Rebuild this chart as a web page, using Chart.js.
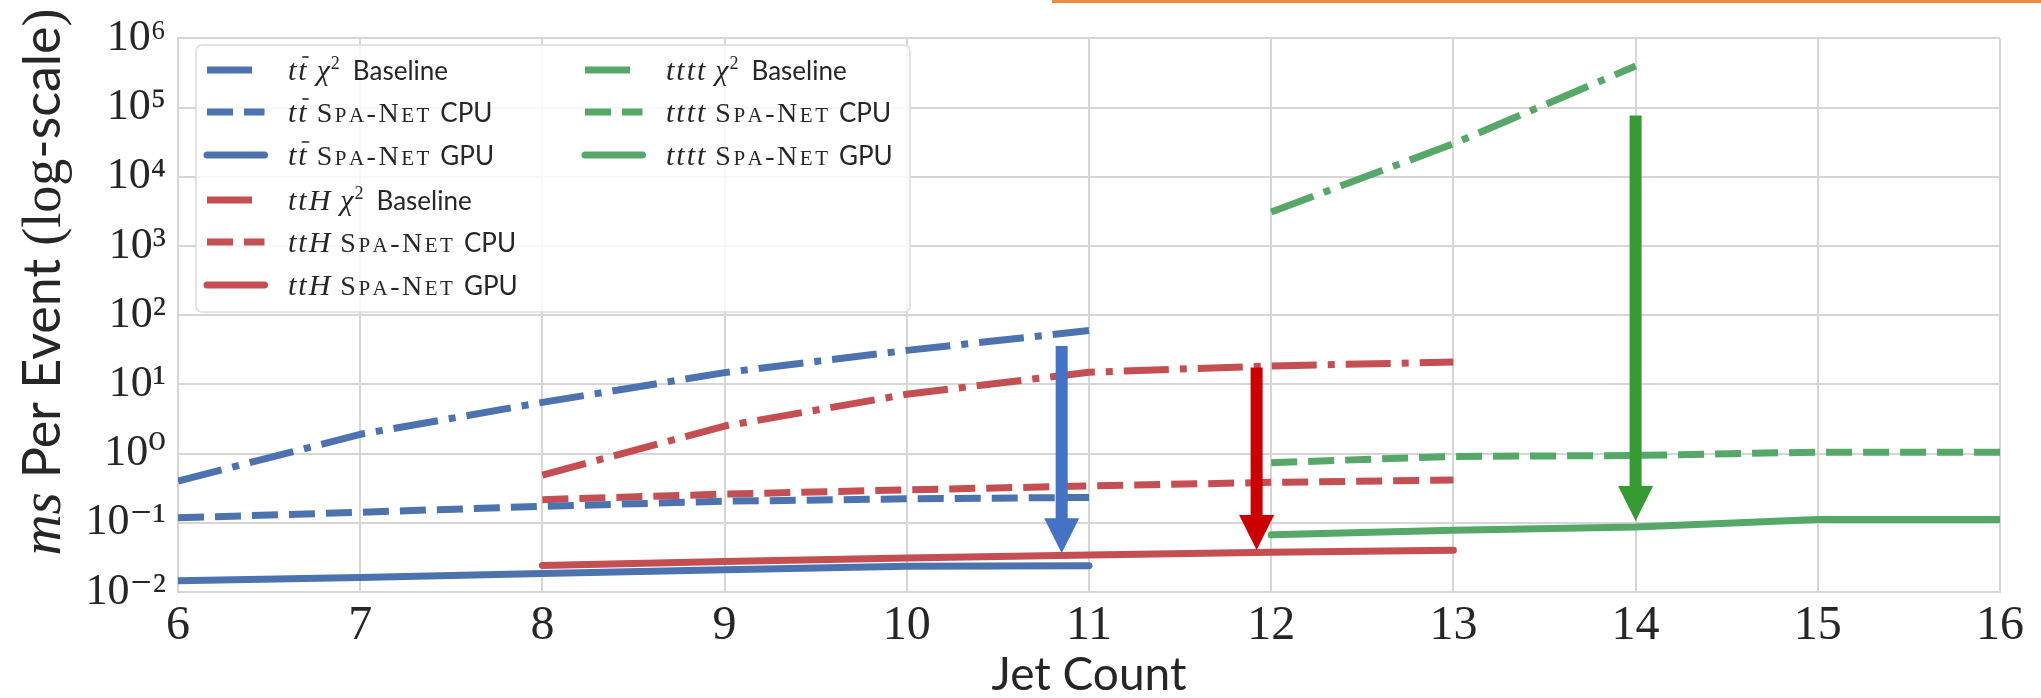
<!DOCTYPE html>
<html><head><meta charset="utf-8">
<script src="https://cdn.jsdelivr.net/npm/chart.js@4/dist/chart.umd.min.js"></script>
<style>
html,body{margin:0;padding:0;background:#fff;}
#wrap{position:relative;width:2041px;height:698px;overflow:hidden;}
#orange{position:absolute;left:1052px;top:0;width:989px;height:3px;background:#F0883E;}
canvas{position:absolute;left:0;top:0;}
</style></head><body>
<div id="wrap"><canvas id="c" width="2041" height="698"></canvas><div id="orange"></div></div>
<script>
// ---------- data ----------
const jetTT   = [6, 7, 8, 9, 10, 11];
const ttBaseline = [0.40, 1.9, 5.5, 14.8, 31, 60];
const ttCPU      = [0.118, 0.142, 0.173, 0.205, 0.222, 0.233];
const ttGPU      = [0.0145, 0.0162, 0.0185, 0.021, 0.0235, 0.024];

const jetTTH  = [8, 9, 10, 11, 12, 13];
const tthBaseline = [0.49, 2.5, 7.2, 15, 18.5, 21];
const tthCPU      = [0.216, 0.26, 0.30, 0.34, 0.384, 0.416];
const tthGPU      = [0.0242, 0.0275, 0.031, 0.0342, 0.0375, 0.040];

const jetTTTTBase = [12, 13, 14];
const ttttBaseline = [3100, 30000, 400000];
const jetTTTT = [12, 13, 14, 15, 16];
const ttttCPU = [0.74, 0.91, 0.94, 1.05, 1.05];
const ttttGPU = [0.067, 0.078, 0.087, 0.112, 0.112];

const xTicks = [6, 7, 8, 9, 10, 11, 12, 13, 14, 15, 16];
const yExponents = [-2, -1, 0, 1, 2, 3, 4, 5, 6];

// speed-up arrows (jet count, from value, to value)
const arrowJet  = [10.85, 11.92, 14.0];
const arrowFrom = [36, 17.6, 77000];
const arrowTo   = [0.0363, 0.0405, 0.106];
const arrowColor = ['#4472C4', '#CC0000', '#379B33'];

// ---------- style ----------
const SERIF = '"Liberation Serif", "DejaVu Serif", serif';
const SANS  = 'Lato, "Open Sans", sans-serif';
const BLUE = '#4C72B0', RED = '#C44E52', GREEN = '#55A868';
const TXT = '#262626';
const GRID = '#d6d6d6';
const DASHDOT = [45, 11, 7, 11], DASH = [26, 11];

const pts = (xs, ys) => ys.map((y, i) => ({x: xs[i], y}));
function ds(label, xs, ys, color, kind) {
  return {
    label, data: pts(xs, ys), borderColor: color, backgroundColor: color,
    borderWidth: 7, pointRadius: 0, pointHoverRadius: 0, tension: 0, fill: false,
    borderDash: kind === 'base' ? DASHDOT : kind === 'cpu' ? DASH : [],
    borderCapStyle: kind === 'gpu' ? 'round' : 'butt', borderJoinStyle: 'round',
    _kind: kind
  };
}
const datasets = [
  ds('tt̄ χ² Baseline', jetTT, ttBaseline, BLUE, 'base'),
  ds('tt̄ Spa-Net CPU', jetTT, ttCPU, BLUE, 'cpu'),
  ds('tt̄ Spa-Net GPU', jetTT, ttGPU, BLUE, 'gpu'),
  ds('ttH χ² Baseline', jetTTH, tthBaseline, RED, 'base'),
  ds('ttH Spa-Net CPU', jetTTH, tthCPU, RED, 'cpu'),
  ds('ttH Spa-Net GPU', jetTTH, tthGPU, RED, 'gpu'),
  ds('tttt χ² Baseline', jetTTTTBase, ttttBaseline, GREEN, 'base'),
  ds('tttt Spa-Net CPU', jetTTTT, ttttCPU, GREEN, 'cpu'),
  ds('tttt Spa-Net GPU', jetTTTT, ttttGPU, GREEN, 'gpu'),
];

const SUP = {'-': '⁻', '0': '⁰', '1': '¹', '2': '²', '3': '³', '4': '⁴', '5': '⁵', '6': '⁶', '7': '⁷', '8': '⁸', '9': '⁹'};

// ---------- rich text helper ----------
function drawSegs(ctx, x, y, segs) {
  for (const s of segs) {
    ctx.font = s.font;
    const chars = s.ls ? s.t.split('') : [s.t];
    chars.forEach((c, k) => {
      const w = ctx.measureText(c).width;
      if (c.trim().length) ctx.fillText(c, x, y + (s.dy || 0));
      x += w + (s.ls && k < chars.length - 1 ? s.ls : 0);
    });
    if (s.bar) { // macron over the last glyph
      const cw = ctx.measureText(s.t.slice(-1)).width;
      ctx.save(); ctx.lineWidth = 1.6; ctx.strokeStyle = ctx.fillStyle;
      ctx.beginPath(); ctx.moveTo(x - cw + 4, y - s.barY); ctx.lineTo(x + 2, y - s.barY); ctx.stroke(); ctx.restore();
    }
    x += (s.gap || 0);
  }
  return x;
}
function procSegs(p) {
  const f = `italic 30px ${SERIF}`;
  if (p === 0) return [{t: 'tt', font: f, ls: 2, bar: true, barY: 23, gap: 10}];
  if (p === 1) return [{t: 'ttH', font: f, ls: 2, gap: 10}];
  return [{t: 'tttt', font: f, ls: 2, gap: 10}];
}
function suffixSegs(kind) {
  if (kind === 'base') return [
    {t: 'χ', font: `italic 30px ${SERIF}`, gap: 1},
    {t: '2', font: `18px ${SERIF}`, dy: -11, gap: 13},
    {t: 'Baseline', font: `26px ${SANS}`}];
  const sc = `21px ${SERIF}`, big = `28px ${SERIF}`;
  return [
    {t: 'S', font: big, gap: 2.5}, {t: 'PA', font: sc, ls: 2.5, gap: 2.5}, {t: '-', font: big, gap: 2.5},
    {t: 'N', font: big, gap: 2.5}, {t: 'ET', font: sc, ls: 2.5, gap: 11},
    {t: kind === 'cpu' ? 'CPU' : 'GPU', font: `26px ${SANS}`}];
}

const legendPlugin = {
  id: 'richLegend',
  afterDraw(chart) {
    const ctx = chart.ctx;
    ctx.save();
    // box
    const bx = 196, by = 45, bw = 714, bh = 267, r = 6;
    ctx.beginPath();
    ctx.moveTo(bx + r, by); ctx.arcTo(bx + bw, by, bx + bw, by + bh, r); ctx.arcTo(bx + bw, by + bh, bx, by + bh, r);
    ctx.arcTo(bx, by + bh, bx, by, r); ctx.arcTo(bx, by, bx + bw, by, r); ctx.closePath();
    ctx.fillStyle = 'rgba(255,255,255,0.8)'; ctx.fill();
    ctx.strokeStyle = '#dcdcdc'; ctx.lineWidth = 1.5; ctx.stroke();
    const rows = [70, 112, 155, 200, 242, 285, 70, 112, 155];
    chart.data.datasets.forEach((d, i) => {
      const col = i >= 6 ? 1 : 0;
      const lx = col ? 585 : 207, tx = col ? 666 : 288;
      const y = rows[i];
      ctx.strokeStyle = d.borderColor; ctx.lineWidth = 7;
      ctx.setLineDash(d.borderDash); ctx.lineCap = d.borderCapStyle;
      ctx.beginPath(); ctx.moveTo(lx, y); ctx.lineTo(lx + (d._kind === 'base' ? 46 : 57.5), y); ctx.stroke();
      ctx.setLineDash([]);
      ctx.fillStyle = TXT; ctx.textBaseline = 'alphabetic'; ctx.textAlign = 'left';
      const segs = procSegs(Math.floor(i / 3)).concat(suffixSegs(d._kind));
      drawSegs(ctx, tx, y + 10, segs);
    });
    // y-axis title
    ctx.save();
    ctx.translate(60, 282); ctx.rotate(-Math.PI / 2);
    const tsegs = [
      {t: 'ms', font: `italic 57px ${SERIF}`, gap: 14},
      {t: 'Per Event ', font: `52px ${SANS}`},
      {t: '(log', font: `54px ${SERIF}`},
      {t: '-scale', font: `52px ${SANS}`},
      {t: ')', font: `54px ${SERIF}`}];
    let tw = 0;
    for (const s of tsegs) { ctx.font = s.font; tw += ctx.measureText(s.t).width + (s.gap || 0); }
    ctx.fillStyle = TXT;
    drawSegs(ctx, -tw / 2, 0, tsegs);
    ctx.restore();
    ctx.restore();
  }
};

const arrowPlugin = {
  id: 'arrows',
  afterDatasetsDraw(chart) {
    const ctx = chart.ctx, xs = chart.scales.x, ys = chart.scales.y;
    ctx.save();
    arrowJet.forEach((j, i) => {
      const x = xs.getPixelForValue(j);
      const y0 = ys.getPixelForValue(arrowFrom[i]);
      const y1 = ys.getPixelForValue(arrowTo[i]);
      const hl = 35, hw = 17.5, sw = 6;
      ctx.fillStyle = arrowColor[i];
      ctx.beginPath();
      ctx.moveTo(x - sw, y0); ctx.lineTo(x + sw, y0); ctx.lineTo(x + sw, y1 - hl);
      ctx.lineTo(x + hw, y1 - hl); ctx.lineTo(x, y1); ctx.lineTo(x - hw, y1 - hl);
      ctx.lineTo(x - sw, y1 - hl); ctx.closePath(); ctx.fill();
    });
    ctx.restore();
  }
};

new Chart(document.getElementById('c'), {
  type: 'line',
  data: {datasets},
  options: {
    responsive: false, animation: false, devicePixelRatio: 1,
    layout: {padding: {top: 30, right: 41, left: 0, bottom: 0}},
    plugins: {legend: {display: false}, tooltip: {enabled: false}},
    scales: {
      x: {
        type: 'linear', min: 6, max: 16,
        afterBuildTicks: s => { s.ticks = xTicks.map(v => ({value: v})); },
        afterFit: s => { s.height = 106; },
        grid: {color: GRID, lineWidth: 2, drawTicks: false},
        border: {color: GRID, width: 2},
        ticks: {color: TXT, font: {family: SERIF, size: 48}, padding: 6, callback: v => String(v)},
        title: {display: true, text: 'Jet Count', color: TXT, font: {family: SANS, size: 46, lineHeight: 1}, padding: {top: 0, bottom: 0}}
      },
      y: {
        type: 'logarithmic', min: 0.01, max: 1e6,
        afterBuildTicks: s => { s.ticks = yExponents.map(e => ({value: Math.pow(10, e), major: true})); },
        afterFit: s => { s.width = 178; },
        grid: {color: GRID, lineWidth: 2, drawTicks: false},
        border: {color: GRID, width: 2},
        ticks: {color: TXT, font: {family: SERIF, size: 44}, padding: 12,
          callback: v => '10' + String(Math.round(Math.log10(v))).split('').map(c => SUP[c]).join('')}
      }
    }
  },
  plugins: [arrowPlugin, legendPlugin]
});
</script>
</body></html>
